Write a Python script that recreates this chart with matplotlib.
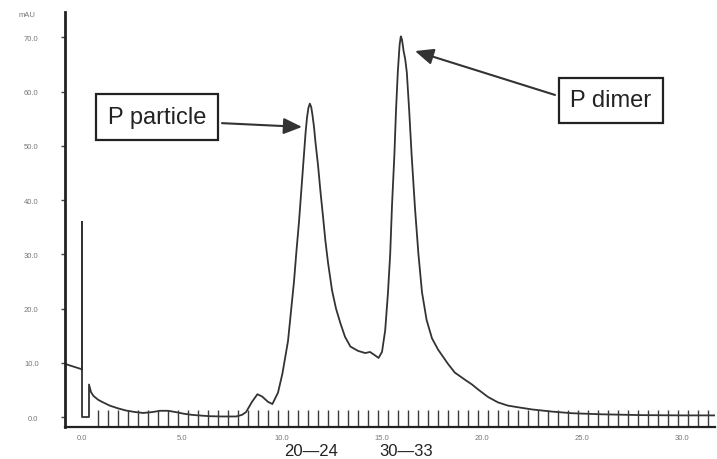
import matplotlib
matplotlib.use("Agg")
import matplotlib.pyplot as plt
from matplotlib.transforms import blended_transform_factory

# ---------------- data ----------------
time_min = [-0.85, 0.0, 0.0, 0.0, 0.35, 0.35, 0.45, 0.57, 0.8, 1.0, 1.39, 1.8, 2.2,
            2.6, 3.05, 3.5, 3.9, 4.3, 4.7, 5.1, 5.5, 6.0, 6.4, 7.0, 7.7, 8.0,
            8.2, 8.5, 8.77, 9.0, 9.3, 9.52, 9.8, 10.02, 10.3, 10.45, 10.6,
            10.72, 10.85, 10.97, 11.09, 11.18, 11.25, 11.32, 11.39, 11.46,
            11.52, 11.6, 11.67, 11.8, 11.92, 12.05, 12.17, 12.3, 12.5, 12.7,
            12.92, 13.15, 13.42, 13.8, 14.16, 14.4, 14.6, 14.83, 15.0, 15.16,
            15.3, 15.41, 15.5, 15.62, 15.7, 15.79, 15.88, 15.94, 16.0, 16.08,
            16.16, 16.24, 16.36, 16.48, 16.65, 16.82, 17.0, 17.23, 17.5,
            17.81, 18.3, 18.64, 19.14, 19.5, 19.8, 20.3, 20.8, 21.3, 21.8,
            22.5, 23.5, 24.5, 26.0, 28.0, 30.0, 31.65]
absorbance_mau = [9.8, 8.8, 36.0, 0.0, 0.0, 6.0, 4.6, 3.9, 3.2, 2.8, 2.1, 1.6,
                  1.2, 0.95, 0.75, 0.9, 1.15, 1.15, 0.9, 0.6, 0.4, 0.25, 0.15,
                  0.1, 0.1, 0.4, 0.9, 2.8, 4.2, 3.8, 2.8, 2.4, 4.5, 8.0, 14.0,
                  19.5, 25.0, 30.5, 36.0, 42.0, 48.0, 52.5, 55.2, 57.0, 57.8,
                  57.2, 55.8, 53.5, 50.8, 46.5, 41.7, 37.0, 32.5, 28.5, 23.4,
                  20.0, 17.3, 14.8, 13.0, 12.2, 11.8, 12.0, 11.5, 10.9, 12.0,
                  16.0, 23.0, 30.1, 39.0, 48.4, 56.5, 63.6, 68.6, 70.2, 69.6,
                  67.5, 66.0, 63.6, 56.5, 48.4, 38.5, 30.1, 23.0, 17.9, 14.5,
                  12.4, 9.8, 8.2, 6.9, 6.0, 5.1, 3.7, 2.7, 2.1, 1.8, 1.4, 1.0,
                  0.7, 0.5, 0.35, 0.3, 0.3]

fraction_marks = [0.8, 1.3, 1.8, 2.3, 2.8, 3.3, 3.8, 4.3, 4.8, 5.3, 5.8, 6.3,
                  6.8, 7.3, 7.8, 8.3, 8.8, 9.3, 9.8, 10.3, 10.8, 11.3, 11.8,
                  12.3, 12.8, 13.3, 13.8, 14.3, 14.8, 15.3, 15.8, 16.3, 16.8,
                  17.3, 17.8, 18.3, 18.8, 19.3, 19.8, 20.3, 20.8, 21.3, 21.8,
                  22.3, 22.8, 23.3, 23.8, 24.3, 24.8, 25.3, 25.8, 26.3, 26.8,
                  27.3, 27.8, 28.3, 28.8, 29.3, 29.8, 30.3, 30.8, 31.3]

x_ticks = [0.0, 5.0, 10.0, 15.0, 20.0, 25.0, 30.0]
x_tick_labels = ["0.0", "5.0", "10.0", "15.0", "20.0", "25.0", "30.0"]
y_ticks = [0, 10, 20, 30, 40, 50, 60, 70]
y_tick_labels = ["0.0", "10.0", "20.0", "30.0", "40.0", "50.0", "60.0", "70.0"]
y_unit = "mAU"

fraction_groups = ["20\u201424", "30\u201433"]
fraction_group_x = [11.45, 16.2]

peak_names = ["P particle", "P dimer"]
peak_tips = [(11.0, 53.5), (16.65, 67.5)]
label_centers = [(3.75, 55.3), (26.45, 58.4)]
arrow_starts = [(7.0, 54.2), (23.65, 59.4)]

# ---------------- figure ----------------
plt.rcParams['font.family'] = ['Liberation Sans', 'DejaVu Sans']
fig = plt.figure(figsize=(7.17, 4.60), dpi=100)
ax = fig.add_axes([65 / 717, 32 / 460, 650 / 717, 415 / 460])

line_col = "#333333"
ax.plot(time_min, absorbance_mau, color=line_col, lw=1.3, solid_joinstyle='round')

# fraction collector marks
ax.vlines(fraction_marks, -1.84, 1.3, color="#3a3a3a", lw=1.0)

ax.set_xlim(-0.85, 31.65)
ax.set_ylim(-1.84, 74.7)

for s in ["top", "right"]:
    ax.spines[s].set_visible(False)
ax.spines["left"].set_linewidth(2.0)
ax.spines["left"].set_color("#222222")
ax.spines["bottom"].set_linewidth(1.6)
ax.spines["bottom"].set_color("#222222")

ax.set_yticks(y_ticks)
ax.set_yticklabels(y_tick_labels)
ax.set_xticks(x_ticks)
ax.set_xticklabels(x_tick_labels)
ax.tick_params(axis='y', length=3, width=1, pad=16, labelsize=5.5,
               labelcolor="#777777", color="#444444")
ax.tick_params(axis='x', length=0, pad=5, labelsize=5.5, labelcolor="#777777")

ax.text(-0.045, 0.993, y_unit, transform=ax.transAxes, ha='right', va='center',
        fontsize=5.5, color="#777777")

# fraction group labels under the axis
trans = blended_transform_factory(ax.transData, ax.transAxes)
for lab, xp in zip(fraction_groups, fraction_group_x):
    ax.text(xp, -0.057, lab, transform=trans, ha='center', va='center',
            fontsize=12, color="#222222")

# boxed labels with arrows
for name, tip, center, start in zip(peak_names, peak_tips, label_centers, arrow_starts):
    ax.text(center[0], center[1], name, ha='center', va='center', fontsize=17,
            color="#222222",
            bbox=dict(boxstyle="square,pad=0.5", fc="white", ec="#222222", lw=1.6))
    ax.annotate("", xy=tip, xytext=start,
                arrowprops=dict(arrowstyle="-|>,head_length=0.8,head_width=0.35",
                                color="#333333", lw=1.5, mutation_scale=14,
                                shrinkA=0, shrinkB=0))

fig.savefig("out.png", dpi=100)
